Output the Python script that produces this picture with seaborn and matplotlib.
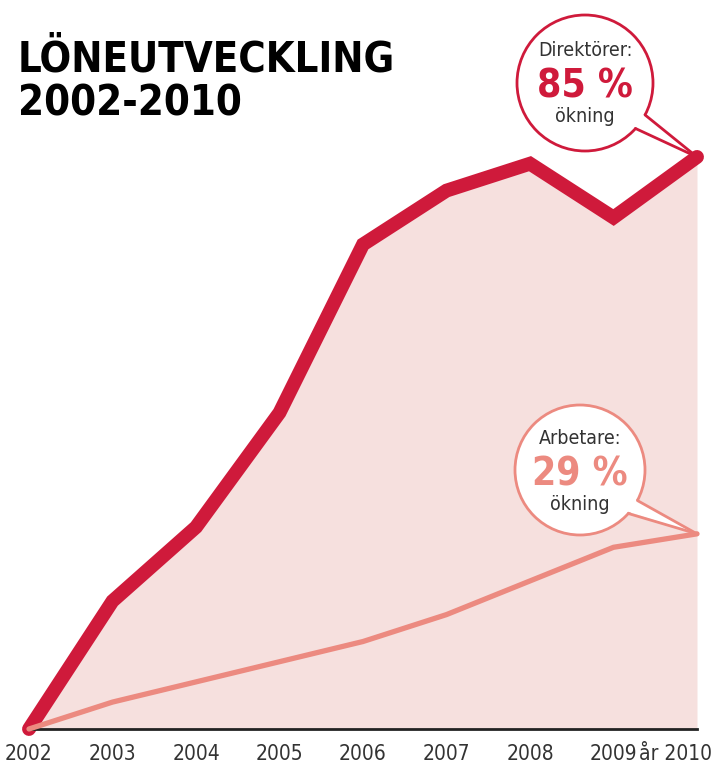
import matplotlib
matplotlib.use("Agg")
import matplotlib.pyplot as plt
from matplotlib.patches import Circle, Polygon
from matplotlib.transforms import ScaledTranslation
import numpy as np
import pandas as pd
import seaborn as sns

# data (% increase since 2002)
years = [2002, 2003, 2004, 2005, 2006, 2007, 2008, 2009, 2010]
year_labels = ['2002', '2003', '2004', '2005', '2006', '2007', '2008', '2009', 'år 2010']
direktorer = [0, 19, 30, 47, 72, 80, 84, 76, 85]
arbetare = [0, 4, 7, 10, 13, 17, 22, 27, 29]

RED = '#cf1a3b'
SALMON = '#ec8a80'
FILL = '#f6e0de'

sns.set_style('white')
plt.rcParams['font.family'] = ['DejaVu Sans']

df = pd.DataFrame({'år': years, 'Direktörer': direktorer, 'Arbetare': arbetare})

W, H = 712, 769
fig = plt.figure(figsize=(W / 100, H / 100), dpi=100)
base_px = 729
ax = fig.add_axes([29 / W, (H - base_px) / H, 668 / W, base_px / H])

ax.fill_between(df['år'], 0, df['Direktörer'], color=FILL, lw=0, zorder=1)
sns.lineplot(data=df, x='år', y='Arbetare', ax=ax, color=SALMON, lw=3.8,
             solid_capstyle='round', clip_on=False, zorder=3)
sns.lineplot(data=df, x='år', y='Direktörer', ax=ax, color=RED, lw=10,
             solid_capstyle='round', solid_joinstyle='miter', clip_on=False, zorder=2)

ax.set_xlim(2002, 2010)
ax.set_ylim(0, base_px / 6.73)
for s in ['top', 'right', 'left']:
    ax.spines[s].set_visible(False)
ax.spines['bottom'].set_color('#222222')
ax.spines['bottom'].set_linewidth(2)
ax.set_yticks([])
ax.set_xticks(years)
ax.set_xticklabels(year_labels, fontstretch='condensed')
ax.tick_params(axis='x', direction='in', length=12, width=2, color='#222222',
               labelsize=15, labelcolor='#333333', pad=11)
last = ax.get_xticklabels()[-1]
last.set_ha('right')
last.set_transform(last.get_transform() + ScaledTranslation(15 / 100, 0, fig.dpi_scale_trans))
ax.set_xlabel('')
ax.set_ylabel('')
ax.patch.set_alpha(0)

# title
fig.text(18 / W, 1 - 39 / H, 'LÖNEUTVECKLING\n2002-2010', ha='left', va='top',
         fontsize=30, fontweight='black', fontstretch='condensed', color='black',
         linespacing=1.05)

# overlay in pixel coordinates for the speech bubbles
ov = fig.add_axes([0, 0, 1, 1])
ov.set_xlim(0, W)
ov.set_ylim(H, 0)
ov.axis('off')


def to_px(x, y):
    fx, fy = ax.transData.transform((x, y))
    return fx, H - fy


def bubble(cx, cy, r, tip, edge, l1, l2, l3, col2):
    ov.add_patch(Circle((cx, cy), r, facecolor='white', edgecolor=edge, lw=2, zorder=5))
    # tail
    a1, a2 = np.deg2rad(28), np.deg2rad(42)
    p1 = (cx + r * np.cos(a1), cy + r * np.sin(a1))
    p2 = (cx + r * np.cos(a2), cy + r * np.sin(a2))
    q1 = (cx + (r - 4) * np.cos(a1), cy + (r - 4) * np.sin(a1))
    q2 = (cx + (r - 4) * np.cos(a2), cy + (r - 4) * np.sin(a2))
    ov.add_patch(Polygon([q1, tip, q2], closed=True, facecolor='white', lw=0, zorder=6))
    ov.plot([p1[0], tip[0]], [p1[1], tip[1]], color=edge, lw=2, zorder=7)
    ov.plot([p2[0], tip[0]], [p2[1], tip[1]], color=edge, lw=2, zorder=7)
    ov.text(cx, cy - 32, l1, ha='center', va='center', fontsize=14, fontstretch='condensed',
            color='#333333', zorder=8)
    ov.text(cx, cy + 4, l2, ha='center', va='center', fontsize=28, fontweight='bold',
            fontstretch='condensed', color=col2, zorder=8)
    ov.text(cx, cy + 34, l3, ha='center', va='center', fontsize=14, fontstretch='condensed',
            color='#333333', zorder=8)


bubble(585, 83, 68, to_px(years[-1], direktorer[-1]), RED,
       'Direktörer:', f'{direktorer[-1]} %', 'ökning', RED)
bubble(580, 470, 65, to_px(years[-1], arbetare[-1]), SALMON,
       'Arbetare:', f'{arbetare[-1]} %', 'ökning', SALMON)

fig.savefig('out.png', dpi=100)
